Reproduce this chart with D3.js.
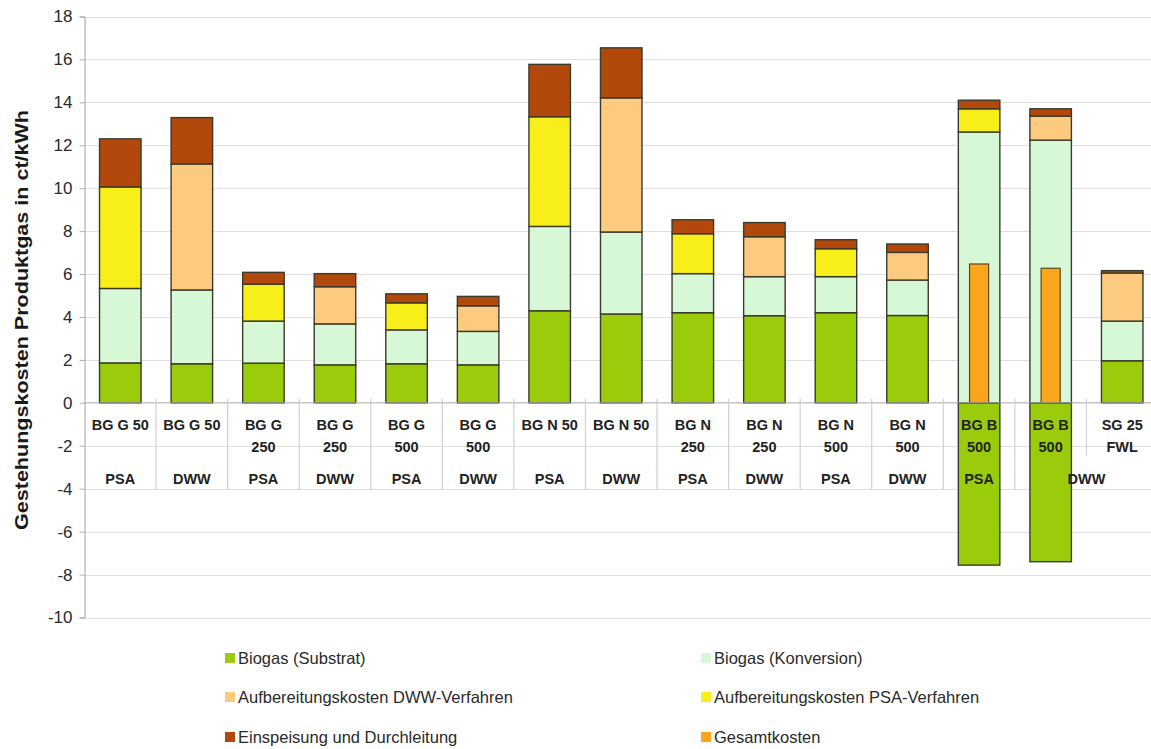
<!DOCTYPE html>
<html>
<head>
<meta charset="utf-8">
<script src="https://cdn.jsdelivr.net/npm/d3@7"></script>
<style>
  html, body { margin: 0; padding: 0; background: #fff; }
  svg { display: block; font-family: "Liberation Sans", Arial, sans-serif; }
</style>
</head>
<body>
<svg id="chart" width="1151" height="749"></svg>
<script>
// ---------- data ----------
const catLine1 = ["BG G 50","BG G 50","BG G","BG G","BG G","BG G","BG N 50","BG N 50","BG N","BG N","BG N","BG N","BG B","BG B","SG 25"];
const catLine2 = ["","","250","250","500","500","","","250","250","500","500","500","500","FWL"];
const groupLabels = ["PSA","DWW","PSA","DWW","PSA","DWW","PSA","DWW","PSA","DWW","PSA","DWW","PSA","DWW"];
const groupSpans  = [1,1,1,1,1,1,1,1,1,1,1,1,1,2];

const substrat    = [1.86, 1.82, 1.85, 1.77, 1.82, 1.77, 4.29, 4.14, 4.20, 4.06, 4.20, 4.07, -7.56, -7.40, 1.96];
const konversion  = [3.47, 3.44, 1.96, 1.91, 1.58, 1.56, 3.93, 3.82, 1.82, 1.82, 1.68, 1.65, 12.62, 12.24, 1.85];
const dww         = [0, 5.87, 0, 1.73, 0, 1.19, 0, 6.25, 0, 1.86, 0, 1.29, 0, 1.12, 2.24];
const psa         = [4.73, 0, 1.72, 0, 1.26, 0, 5.11, 0, 1.86, 0, 1.30, 0, 1.08, 0, 0];
const einspeisung = [2.24, 2.16, 0.55, 0.61, 0.42, 0.44, 2.44, 2.33, 0.65, 0.66, 0.42, 0.39, 0.40, 0.34, 0.11];
const gesamt      = [null, null, null, null, null, null, null, null, null, null, null, null, 6.47, 6.27, null];

const yTicks = [-10,-8,-6,-4,-2,0,2,4,6,8,10,12,14,16,18];

const seriesNames = ["Biogas (Substrat)", "Biogas (Konversion)", "Aufbereitungskosten DWW-Verfahren",
                     "Aufbereitungskosten PSA-Verfahren", "Einspeisung und Durchleitung", "Gesamtkosten"];
const colors = {
  substrat: "#9acc0c", konversion: "#d6f8d6", dww: "#fdcb80",
  psa: "#f7ee1a", einspeisung: "#b2480c", gesamt: "#fba51c"
};
const yTitle = "Gestehungskosten Produktgas in ct/kWh";

// ---------- build ----------
const svg = d3.select("#chart");
const pLeft = 84.5, pRight = 1158, pTop = 16.5, pBottom = 617.5;

const idx = catLine1.map((d, i) => i);
const x = d3.scaleBand().domain(idx).range([pLeft, pRight]).paddingInner(0.42).paddingOuter(0.21);
const y = d3.scaleLinear().domain([-10, 18]).range([pBottom, pTop]);

// gridlines
svg.append("g").selectAll("line").data(yTicks.filter(t => t !== 0)).join("line")
  .attr("x1", pLeft).attr("x2", pRight)
  .attr("y1", d => Math.round(y(d)) + 0.5).attr("y2", d => Math.round(y(d)) + 0.5)
  .attr("stroke", "#e0e0e0").attr("stroke-width", 1);

// y axis
const yAxis = d3.axisLeft(y).tickValues(yTicks).tickSize(5).tickPadding(7).tickFormat(d => String(d));
const gy = svg.append("g").attr("transform", `translate(${pLeft},0)`).call(yAxis);
gy.select(".domain").attr("stroke", "#a0a0a0");
gy.selectAll(".tick line").attr("stroke", "#b0b0b0");
gy.selectAll(".tick text").attr("font-size", 17).attr("fill", "#2a2a2a")
  .attr("font-family", "Liberation Sans, Arial, sans-serif");

// stacked bars
const keys = ["substrat", "konversion", "dww", "psa", "einspeisung"];
const rows = idx.map(i => ({ i, substrat: substrat[i], konversion: konversion[i], dww: dww[i], psa: psa[i], einspeisung: einspeisung[i] }));
const stack = d3.stack().keys(keys).offset(d3.stackOffsetDiverging)(rows);

const gBars = svg.append("g");
stack.forEach(layer => {
  gBars.append("g").selectAll("rect")
    .data(layer.filter(d => d[1] !== d[0]))
    .join("rect")
    .attr("x", d => x(d.data.i))
    .attr("width", x.bandwidth())
    .attr("y", d => y(Math.max(d[0], d[1])))
    .attr("height", d => Math.abs(y(d[0]) - y(d[1])))
    .attr("fill", colors[layer.key])
    .attr("stroke", "#3b3b2b")
    .attr("stroke-width", 1.4);
});

// Gesamtkosten narrow bars
const gw = x.bandwidth() * 0.46;
svg.append("g").selectAll("rect")
  .data(idx.filter(i => gesamt[i] != null))
  .join("rect")
  .attr("x", i => x(i) + (x.bandwidth() - gw) / 2)
  .attr("width", gw)
  .attr("y", i => y(gesamt[i]))
  .attr("height", i => y(0) - y(gesamt[i]))
  .attr("fill", colors.gesamt)
  .attr("stroke", "#5a4a1a")
  .attr("stroke-width", 1.2);

// category axis line
svg.append("line").attr("x1", pLeft).attr("x2", pRight)
  .attr("y1", y(0)).attr("y2", y(0)).attr("stroke", "#a8a8a8").attr("stroke-width", 1);

// category separators (multi-level)
const step = x.step();
const boundaries = d3.range(1, idx.length + 1);
let groupEnds = []; let acc = 0;
groupSpans.forEach(s => { acc += s; groupEnds.push(acc); });
svg.append("g").selectAll("line").data(boundaries).join("line")
  .attr("x1", b => pLeft + b * step).attr("x2", b => pLeft + b * step)
  .attr("y1", y(0) - 4)
  .attr("y2", b => groupEnds.includes(b) ? 490 : 455)
  .attr("stroke", "#d0d0d0").attr("stroke-width", 1.2);

// category labels
const gCat = svg.append("g").attr("font-weight", "bold").attr("font-size", 14.5)
  .attr("fill", "#222").attr("text-anchor", "middle");
gCat.selectAll("text.l1").data(idx).join("text").attr("class", "l1")
  .attr("x", i => x(i) + x.bandwidth() / 2).attr("y", 430).text(i => catLine1[i]);
gCat.selectAll("text.l2").data(idx.filter(i => catLine2[i])).join("text").attr("class", "l2")
  .attr("x", i => x(i) + x.bandwidth() / 2).attr("y", 452).text(i => catLine2[i]);
let startIdx = 0;
const groups = groupLabels.map((g, k) => {
  const s = startIdx; startIdx += groupSpans[k];
  return { label: g, s, e: startIdx };
});
gCat.selectAll("text.grp").data(groups).join("text").attr("class", "grp")
  .attr("x", g => (x(g.s) + x(g.e - 1) + x.bandwidth()) / 2).attr("y", 484).text(g => g.label);

// y title
svg.append("text")
  .attr("transform", "translate(28,320) rotate(-90)")
  .attr("text-anchor", "middle")
  .attr("font-weight", "bold").attr("font-size", 19).attr("fill", "#1a1a1a")
  .attr("textLength", 420).attr("lengthAdjust", "spacingAndGlyphs")
  .text(yTitle);

// legend
const legendKeys = ["substrat", "konversion", "dww", "psa", "einspeisung", "gesamt"];
const legX = [225, 701], legY = [658, 697, 737];
const gLeg = svg.append("g");
legendKeys.forEach((k, j) => {
  const col = j % 2, row = Math.floor(j / 2);
  gLeg.append("rect").attr("x", legX[col]).attr("y", legY[row] - 5).attr("width", 10).attr("height", 10)
    .attr("fill", colors[k]);
  gLeg.append("text").attr("x", legX[col] + 13).attr("y", legY[row]).attr("dy", "0.36em")
    .attr("font-size", 16.5).attr("fill", "#2a2a2a").text(seriesNames[j]);
});
</script>
</body>
</html>
